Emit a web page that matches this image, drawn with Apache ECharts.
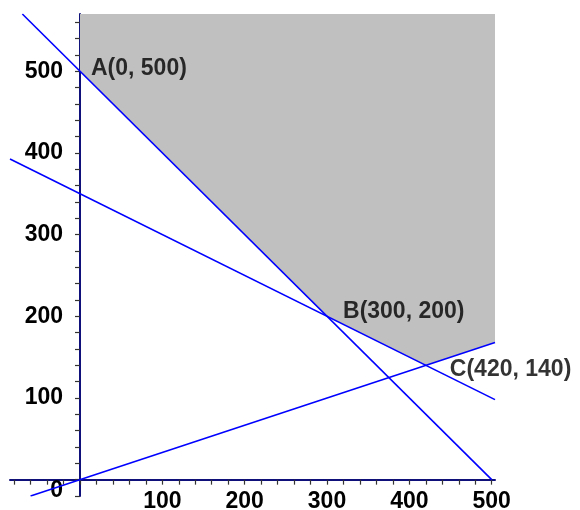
<!DOCTYPE html>
<html><head><meta charset="utf-8">
<script src="https://cdn.jsdelivr.net/npm/echarts@6/dist/echarts.min.js"></script>
<style>html,body{margin:0;padding:0;background:#fff}#c{width:580px;height:510px}</style>
</head><body><div id="c"></div>
<script>
// Data
const xTickLabels = [100, 200, 300, 400, 500];
const yTickLabels = [0, 100, 200, 300, 400, 500];
const xMinorTicks = [-80,-60,-40,-20,0,20,40,60,80,100,120,140,160,180,200,220,240,260,280,300,320,340,360,380,400,420,440,460,480,500];
const yMinorTicks = [-20,0,20,40,60,80,100,120,140,160,180,200,220,240,260,280,300,320,340,360,380,400,420,440,460,480,500,520,540,560];
// Feasible (shaded) region boundary, from x = 0 to right edge
const regionBoundary = [[0, 500], [300, 200], [420, 140], [504, 168]];
// Constraint lines
const line1 = [[-70, 570], [500, 0]];      // x + y = 500
const line2 = [[-85, 392.5], [504, 98]];   // x + 2y = 700
const line3 = [[-60, -20], [504, 168]];    // y = x / 3
// Labelled corner points
const pointNames = ['A(0, 500)', 'B(300, 200)', 'C(420, 140)'];
const points = [[0, 500], [300, 200], [420, 140]];

const FONT = 'Liberation Sans, Arial, sans-serif';
const chart = echarts.init(document.getElementById('c'));
const labelOffsets = [[6, -3], [11, -5], [19, 4]];
const lineStyle = {color: '#0000ff', width: 1.6};
const mkLine = d => ({type: 'line', data: d, symbol: 'none', lineStyle: lineStyle, silent: true, z: 3, clip: true});

chart.setOption({
  animation: false,
  grid: {left: 10, top: 14, width: 485, height: 482,
         outerBounds: {left: -300, top: -300, right: -300, bottom: -300}},
  xAxis: {
    type: 'value', min: -85, max: 504,
    axisLine: {onZero: true, lineStyle: {color: '#10107a', width: 2}},
    axisTick: {show: true, customValues: xMinorTicks, length: 5, lineStyle: {color: '#333', width: 1.2}},
    axisLabel: {show: true, customValues: xTickLabels, margin: -6, fontSize: 23, color: '#000',
                fontFamily: FONT, fontWeight: 'bold'},
    splitLine: {show: false}
  },
  yAxis: {
    type: 'value', min: -20, max: 570,
    axisLine: {onZero: true, lineStyle: {color: '#10107a', width: 2}},
    axisTick: {show: true, customValues: yMinorTicks, length: 5, lineStyle: {color: '#333', width: 1.2}},
    axisLabel: {
      show: true, customValues: yTickLabels, margin: -53, fontSize: 23, color: '#000',
      fontFamily: FONT, fontWeight: 'bold',
      formatter: v => v === 0 ? '{z|0}' : String(v),
      rich: {z: {padding: [22, 0, 0, 0], fontSize: 23, color: '#000', fontFamily: FONT, fontWeight: 'bold'}}
    },
    splitLine: {show: false}
  },
  series: [
    {type: 'line', data: regionBoundary, symbol: 'none', lineStyle: {width: 0},
     areaStyle: {color: '#c0c0c0', opacity: 1, origin: 'end'}, z: 1, silent: true},
    mkLine(line1), mkLine(line2), mkLine(line3),
    {type: 'scatter', symbolSize: 0, z: 5,
     data: points.map((p, i) => ({value: p, name: pointNames[i],
       label: {show: true, position: 'right', offset: labelOffsets[i], formatter: '{b}',
               fontSize: 23, color: '#000', fontFamily: FONT, fontWeight: 'bold'}}))}
  ]
});
</script></body></html>
